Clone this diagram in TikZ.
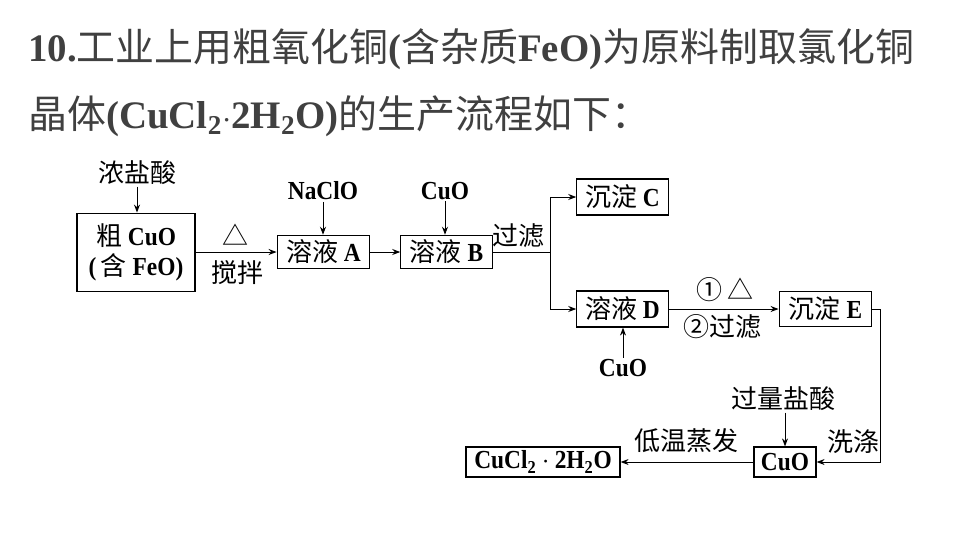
\documentclass[tikz,border=0pt]{standalone}
\usepackage{fontspec}
\setmainfont{Liberation Serif}
\newfontfamily\lat[FakeStretch=0.9]{Liberation Serif}
\newfontfamily\cjk{Noto Sans CJK SC}
\usepackage{xcolor}
\usetikzlibrary{arrows.meta,positioning}
\definecolor{titlegray}{HTML}{404040}
\newcommand{\zh}[1]{{\cjk\mdseries #1}}
\newcommand{\sub}[1]{\textsubscript{#1}}

\begin{document}
\begin{tikzpicture}[x=0.75pt, y=-0.75pt,
    box/.style={draw, rectangle, line width=0.9pt, inner sep=0pt, align=center},
    flow/.style={-{Stealth[length=6pt,width=4.5pt]}, line width=0.75pt},
    lbl/.style={inner sep=1pt}]
    \useasboundingbox (0,0) rectangle (960,540);
    \tikzset{every node/.style={font=\lat\fontsize{19.5}{22.5}\selectfont\bfseries}}

    % Title
    \node[anchor=base west, inner sep=0pt, text=titlegray, font=\rmfamily\fontsize{29.2}{34}\selectfont\bfseries] (t1) at (28,61)
        {10.\zh{工业上用粗氧化铜}(\zh{含杂质}FeO)\zh{为原料制取氯化铜}};
    \node[anchor=base west, inner sep=0pt, text=titlegray, font=\rmfamily\fontsize{29.2}{34}\selectfont\bfseries] (t2) at (28,128)
        {\zh{晶体}(CuCl\sub{2}$\cdot$2H\sub{2}O)\zh{的生产流程如下：}};

    % Boxes
    \node[box, minimum width=88.5pt, minimum height=59pt] (crude) at (136,252.5) {\zh{粗} CuO\\(\,\zh{含} FeO)};
    \node[box, minimum width=69.5pt, minimum height=25pt] (solA) at (323.5,252) {\zh{溶液} A};
    \node[box, minimum width=68.5pt, minimum height=25pt] (solB) at (446.5,252) {\zh{溶液} B};
    \node[box, minimum width=68.5pt, minimum height=27pt] (precC) at (622.5,197) {\zh{沉淀} C};
    \node[box, minimum width=68.5pt, minimum height=27pt] (solD) at (622.5,309) {\zh{溶液} D};
    \node[box, minimum width=69.5pt, minimum height=26pt] (precE) at (825.5,309) {\zh{沉淀} E};
    \node[box, minimum width=46.5pt, minimum height=22.5pt] (cuoF) at (785,462) {CuO};
    \node[box, minimum width=115.5pt, minimum height=22.5pt] (prod) at (543,462) {CuCl\sub{2}\hspace{4pt}$\cdot$\hspace{4pt}2H\sub{2}O};

    % Reagents
    \node[lbl] (hcl) at (137,173) {\zh{浓盐酸}};
    \node[lbl] (naclo) at (323,191) {NaClO};
    \node[lbl] (cuoB) at (445,191) {CuO};
    \node[lbl] (cuoD) at (623,368) {CuO};
    \node[lbl] (hclx) at (783,399) {\zh{过量盐酸}};

    \coordinate (split) at (550,252);
    \coordinate (turn) at (880,309);

    \draw[flow] (hcl) -- (crude.north -| hcl);
    \draw[flow] (naclo) -- (solA.north -| naclo);
    \draw[flow] (cuoB) -- (solB.north -| cuoB);
    \draw[flow] (cuoD) -- (solD.south -| cuoD);
    \draw[flow] (hclx.south -| cuoF) -- (cuoF.north);

    \draw[flow] (crude.east |- solA) -- (solA.west);
    \draw[flow] (solA) -- (solB);
    \draw (solB.east) -- (split);
    \draw[flow] (split) |- (precC.west);
    \draw[flow] (split) |- (solD.west);
    \draw[flow] (solD) -- (precE);
    \draw[flow] (precE.east) -- (turn) |- (cuoF.east);
    \draw[flow] (cuoF) -- (prod);

    % Conditions
    \node[lbl] at (235,235) {\zh{△}};
    \node[lbl] at (237,273) {\zh{搅拌}};
    \node[lbl] at (518,236) {\zh{过滤}};
    \node[lbl] at (725,290) {\zh{①\,△}};
    \node[lbl] at (722,327) {\zh{②过滤}};
    \node[lbl] at (686,441) {\zh{低温蒸发}};
    \node[lbl] at (853,442) {\zh{洗涤}};
\end{tikzpicture}
\end{document}
